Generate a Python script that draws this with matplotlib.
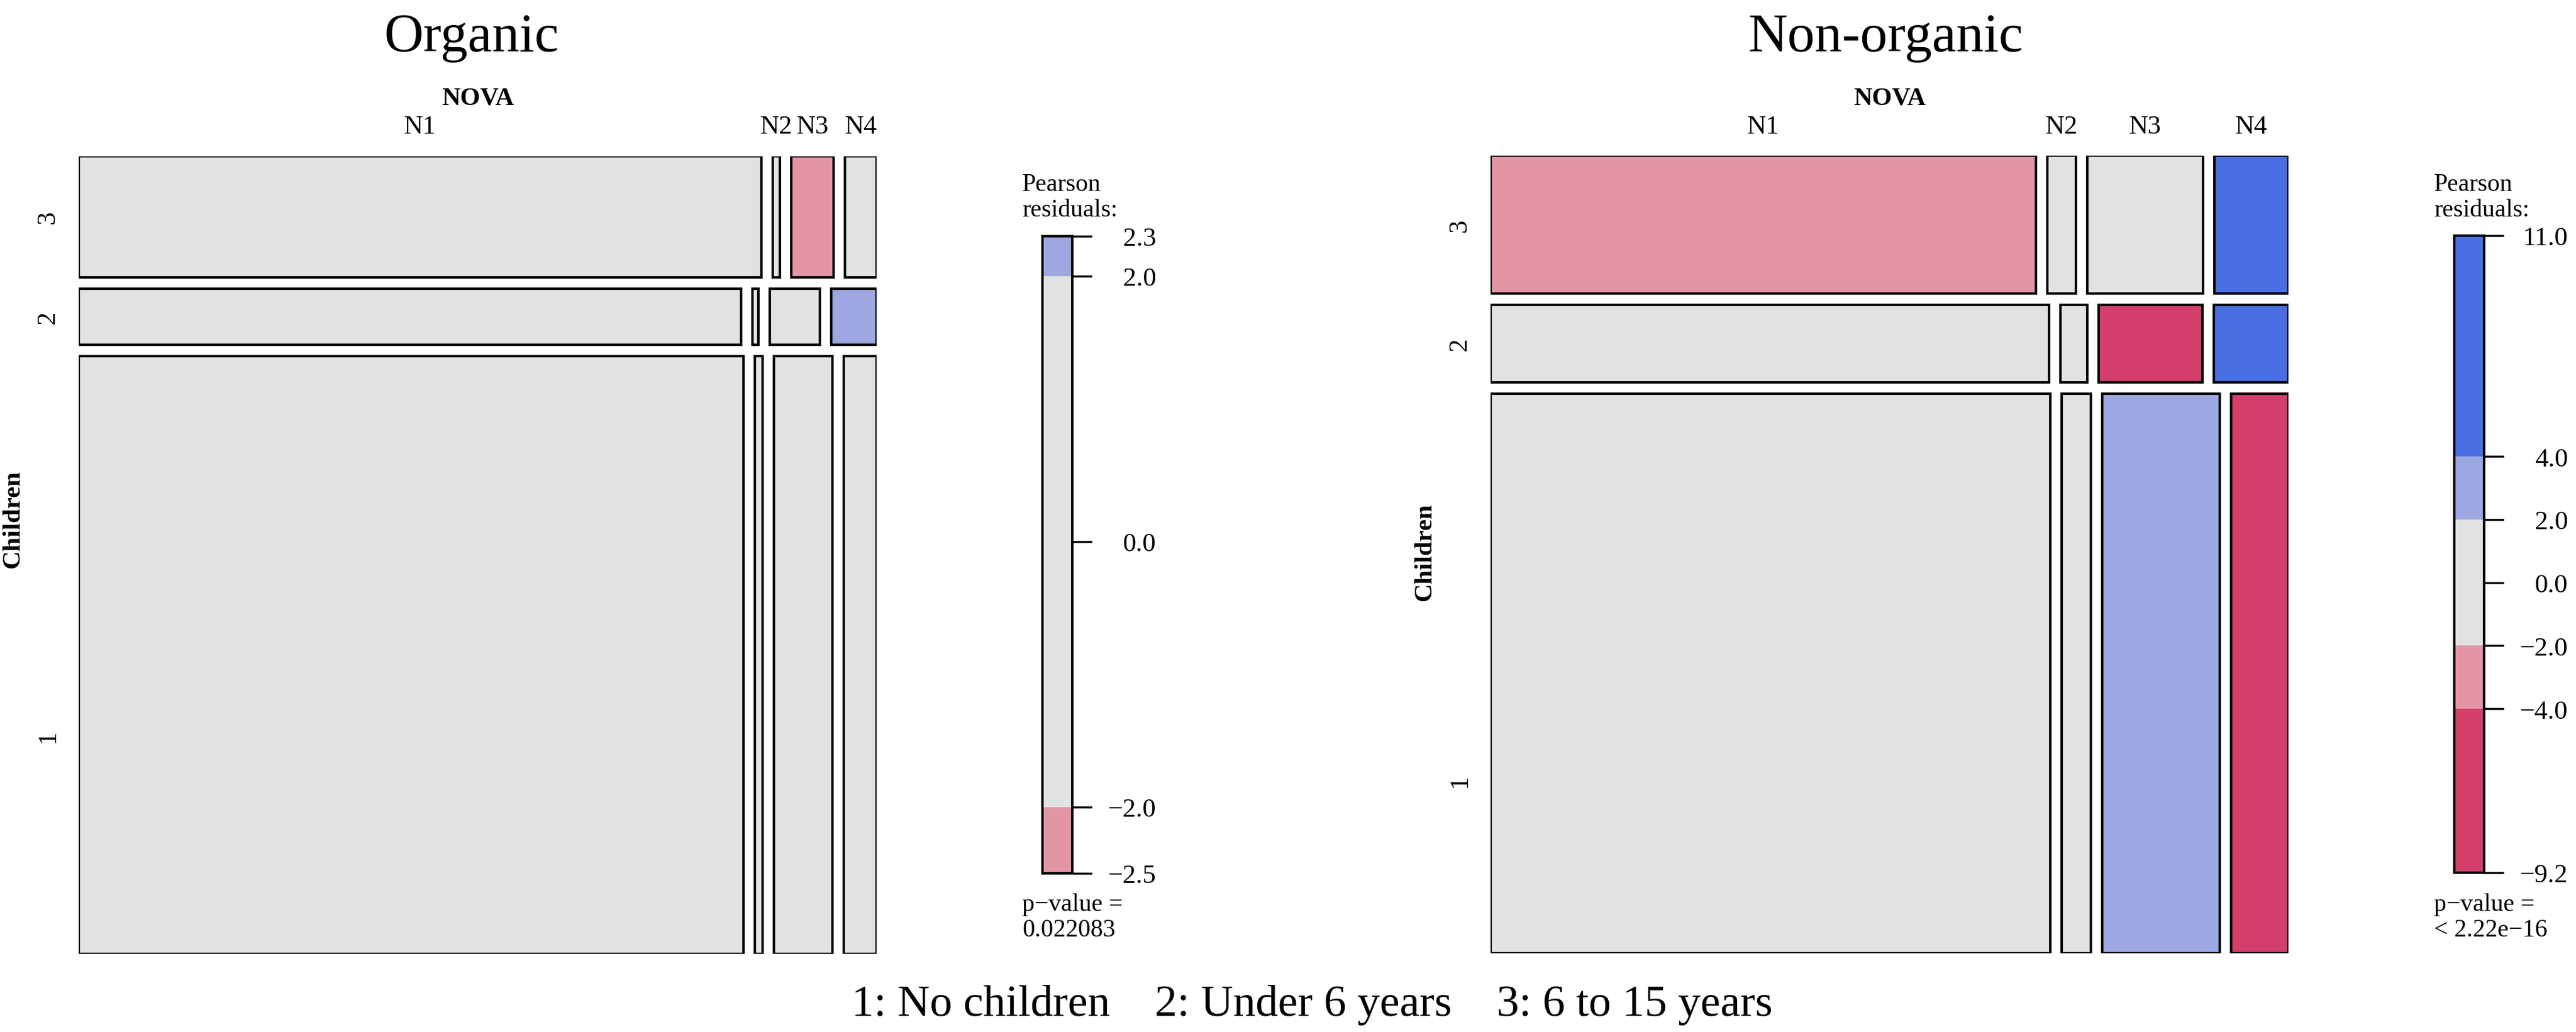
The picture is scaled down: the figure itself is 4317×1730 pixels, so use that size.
"""
Mosaic plots of NOVA group by children in household (organic vs non-organic)
"""
import matplotlib
matplotlib.use('Agg')
import matplotlib.pyplot as plt
from matplotlib.patches import Rectangle
from matplotlib.ticker import FixedLocator, FixedFormatter

plt.rcParams['font.family'] = ['Liberation Serif', 'DejaVu Serif']

W, H, DPI = 4317, 1731, 100

# ---- data ----
nova_levels = ['N1', 'N2', 'N3', 'N4']
children_levels = ['1', '2', '3']          # bottom to top

# share of each Children level (row heights)
organic_rows = [0.771, 0.073, 0.156]
nonorganic_rows = [0.722, 0.100, 0.178]

# NOVA share within each Children level (1, 2, 3)
organic_cols = [
    [0.873, 0.010, 0.077, 0.043],
    [0.866, 0.008, 0.066, 0.059],
    [0.893, 0.009, 0.056, 0.041],
]
nonorganic_cols = [
    [0.732, 0.038, 0.154, 0.075],
    [0.729, 0.035, 0.136, 0.097],
    [0.713, 0.037, 0.151, 0.097],
]

# Pearson residuals (estimated from the shading)
organic_resid = [
    [0.5, -0.3, 0.8, -0.2],
    [-0.6, -0.2, 0.3, 2.3],
    [0.4, 0.6, -2.5, -0.5],
]
nonorganic_resid = [
    [1.2, 0.5, 3.0, -9.2],
    [0.8, -0.5, -4.8, 6.0],
    [-3.2, 1.0, 1.5, 11.0],
]

organic_pvalue = ['p\u2212value =', '0.022083']
nonorganic_pvalue = ['p\u2212value =', '< 2.22e\u221216']

footer = '1: No children    2: Under 6 years    3: 6 to 15 years'

# shading bins (lo, hi, colour)
BINS = [(-1e9, -4, '#D33F6A'), (-4, -2, '#E495A5'), (-2, 2, '#E2E2E2'),
        (2, 4, '#9DA8E2'), (4, 1e9, '#4A6FE3')]


def shade(r):
    for lo, hi, c in BINS:
        if lo <= r < hi:
            return c
    return BINS[-1][2]


def fx(px):
    return px / W


def fy(px):
    return 1 - px / H


def draw_panel(fig, left, top, size, rows, cols, resid, title, title_x, pval,
               leg_left, leg_top, lab1_y, var_y):
    ax = fig.add_axes([fx(left), fy(top + size), size / W, size / H])
    ax.set_xlim(0, 1)
    ax.set_ylim(0, 1)
    ax.axis('off')
    gap = 19 / size
    unit = 1 / size

    y0 = 0
    row_h = [r / sum(rows) * (1 - 2 * gap) for r in rows]
    for i, lev in enumerate(children_levels):
        h = row_h[i]
        shares = [c / sum(cols[i]) for c in cols[i]]
        x0 = 0
        centers = []
        for j in range(len(nova_levels)):
            w = shares[j] * (1 - 3 * gap)
            ax.add_patch(Rectangle((x0, y0), w, h, facecolor=shade(resid[i][j]),
                                   edgecolor='black', linewidth=3, joinstyle='miter'))
            centers.append(x0 + w / 2)
            x0 += w + gap
        ly = y0 + h / 2 if i > 0 else (top + size - lab1_y) * unit
        ax.text(-52 * unit, ly, lev, rotation=90, fontsize=32,
                ha='center', va='center')
        if i == len(children_levels) - 1:
            for c, lab in zip(centers, nova_levels):
                ax.text(c, 1 + (top - 224) * unit, lab, fontsize=32,
                        ha='center', va='baseline')
        y0 += h + gap

    ax.text(0.5, 1 + (top - 176) * unit, 'NOVA', fontsize=31, fontweight='bold',
            ha='center', va='baseline')
    ax.text(-110 * unit, (top + size - var_y) * unit, 'Children', fontsize=31,
            fontweight='bold', rotation=90, ha='center', va='center')
    ax.text((title_x - left) * unit, 1 + (top - 86) * unit, title, fontsize=66,
            ha='center', va='baseline')

    # legend bar
    flat = [v for row in resid for v in row]
    vmin, vmax = min(flat), max(flat)
    lax = fig.add_axes([fx(leg_left), fy(leg_top + 1068), 50 / W, 1068 / H])
    lax.set_xlim(0, 1)
    lax.set_ylim(vmin, vmax)
    for lo, hi, c in BINS:
        a, b = max(lo, vmin), min(hi, vmax)
        if b > a:
            lax.bar(0.5, b - a, bottom=a, width=1, color=c, edgecolor='none')
    for s in lax.spines.values():
        s.set_linewidth(3)
    ticks = [vmin] + [t for t in (-4, -2, 0, 2, 4) if vmin < t < vmax] + [vmax]
    lax.yaxis.tick_right()
    lax.yaxis.set_major_locator(FixedLocator(ticks))
    lax.yaxis.set_major_formatter(FixedFormatter(
        [f'{t:.1f}'.replace('-', '\u2212') for t in ticks]))
    lax.tick_params(axis='y', length=24, width=2.5, labelsize=32, pad=77)
    for lab in lax.get_yticklabels():
        lab.set_ha('right')
    lax.set_xticks([])

    fig.text(fx(leg_left - 34), fy(320), 'Pearson', fontsize=30, ha='left', va='baseline')
    fig.text(fx(leg_left - 34), fy(363), 'residuals:', fontsize=30, ha='left', va='baseline')
    fig.text(fx(leg_left - 34), fy(1527), pval[0], fontsize=30, ha='left', va='baseline')
    fig.text(fx(leg_left - 34), fy(1570), pval[1], fontsize=30, ha='left', va='baseline')


fig = plt.figure(figsize=(W / DPI, H / DPI), dpi=DPI)

draw_panel(fig, 132, 263, 1337, organic_rows, organic_cols, organic_resid,
           'Organic', 790, organic_pvalue, 1747, 397, 1235, 870)
draw_panel(fig, 2498, 262, 1337, nonorganic_rows, nonorganic_cols, nonorganic_resid,
           'Non-organic', 3160, nonorganic_pvalue, 4113, 396, 1310, 925)

fig.text(fx(1427), fy(1703), footer, fontsize=54, ha='left', va='baseline')

fig.savefig('out.png', dpi=DPI, facecolor='white')
